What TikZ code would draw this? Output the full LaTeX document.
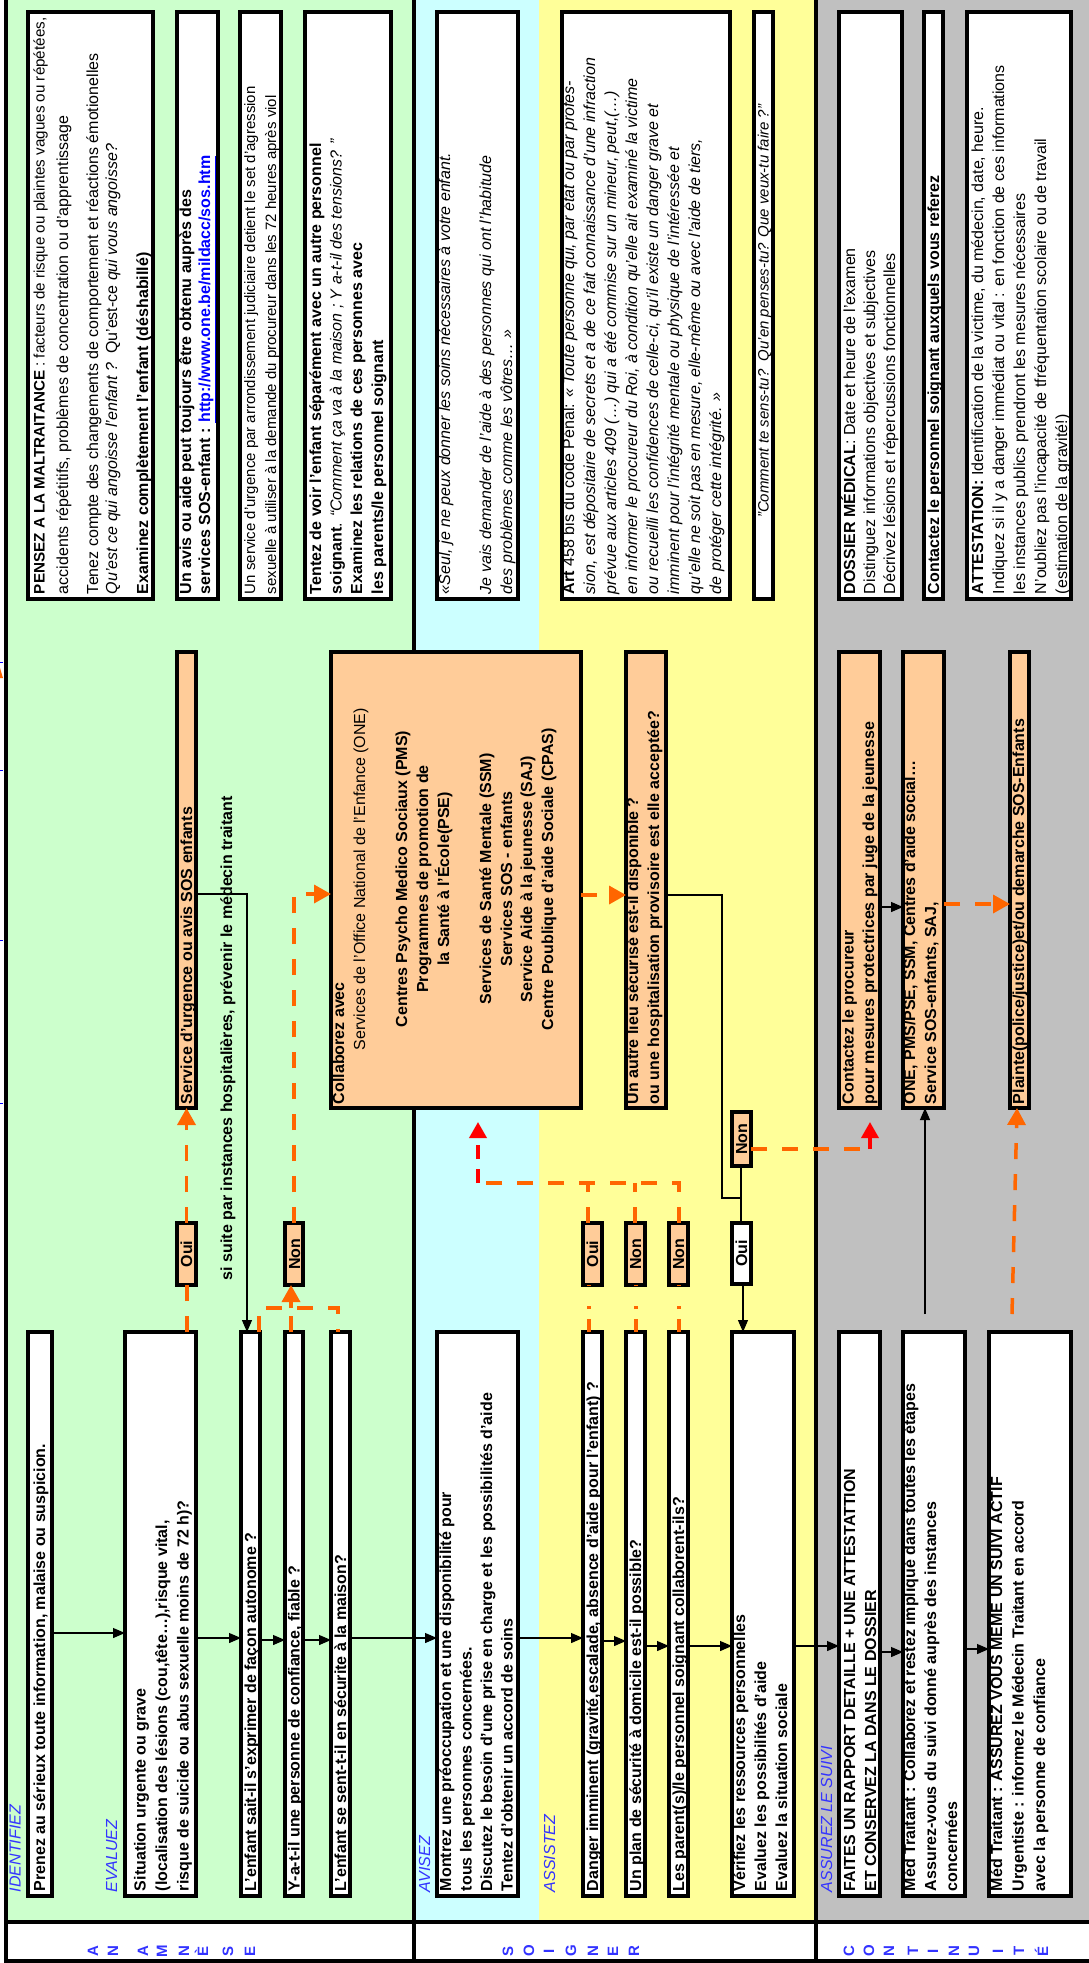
\documentclass[tikz,border=0pt]{standalone}
\usepackage{fontspec}
\setmainfont{Liberation Sans}
\usetikzlibrary{arrows.meta}
\definecolor{cgreen}{HTML}{CCFFCC}
\definecolor{ccyan}{HTML}{CCFFFF}
\definecolor{cyellow}{HTML}{FFFF99}
\definecolor{cgray}{HTML}{C0C0C0}
\definecolor{corange}{HTML}{FFCC99}
\definecolor{cdash}{HTML}{FF6600}
\definecolor{cred}{HTML}{FF0000}
\definecolor{cblue}{HTML}{3333FF}
\definecolor{clink}{HTML}{0000FF}
\newcounter{lnc}
\newcommand\LineAt[4][]{\stepcounter{lnc}\node[txt,#1] (ln\number\value{lnc}) at (#2,-#3) {#4};}
\newcommand\BoxAt[6][]{\node[boxs,#1,minimum width={#4-#3},minimum height={#6-#5}] (#2) at ({(#3+#4)/2},{-(#5+#6)/2}) {};}
\begin{document}
\begin{tikzpicture}[x=1pt,y=1pt,
  txt/.style={rotate=90,anchor=base west,inner sep=0,outer sep=0,font=\fontsize{16}{19}\selectfont},
  txtc/.style={anchor=base},
  bt/.style={font=\fontsize{16}{19}\selectfont\bfseries},
  sf/.style={font=\fontsize{#1}{19}\selectfont},
  lbl/.style={font=\fontsize{16}{19}\selectfont\itshape,text=cblue},
  lettr/.style={anchor=base,font=\fontsize{15}{18}\selectfont\bfseries,text=cblue},
  boxs/.style={draw,line width=4,fill=white,inner sep=0,outer sep=0},
  obox/.style={fill=corange},
  frame/.style={line width=4},
  arr/.style={line width=1.2,-{Triangle[length=12pt,width=10pt]}},
  thinl/.style={line width=1.2},
  odash/.style={cdash,line width=3.5,dash pattern=on 16pt off 15pt},
  ldash/.style={cdash,line width=3.5,dash pattern=on 13pt off 10pt on 3pt off 20pt},
  rdash/.style={cred,line width=3.5,dash pattern=on 14pt off 10pt},
  oarr/.style={-{Triangle[length=17pt,width=18pt]}},
  rarr/.style={-{Triangle[length=16pt,width=17pt]}}
]
\useasboundingbox (0,0) rectangle (1089,-1963);
\fill[white] (0,0) rectangle (1089,-1963);
% bands
\fill[cgreen] (8,0) rectangle (414,-1922);
\fill[ccyan] (414,0) rectangle (539,-1922);
\fill[cyellow] (539,0) rectangle (816,-1922);
\fill[cgray] (816,0) rectangle (1089,-1922);
\draw[frame] (6,0) -- (6,-1961) -- (1089,-1961);
\draw[frame] (6,-1922) -- (1089,-1922);
\draw[frame] (414,0) -- (414,-1963);
\draw[frame] (816,0) -- (816,-1963);
% edge artifacts
\draw[clink,line width=1] (0,-662) -- (3,-662);
\draw[clink,line width=1] (0,-770) -- (3,-770);
\draw[clink,line width=1] (0,-940) -- (3,-940);
\draw[clink,line width=1] (0,-1103) -- (3,-1103);
\fill[cdash] (0,-668) -- (3,-678) -- (0,-678) -- cycle;

% info boxes
\BoxAt{pensez}{28}{153}{12}{599}
\BoxAt{avis}{177}{218}{12}{599}
\BoxAt{urgsvc}{240}{281}{12}{599}
\BoxAt{tentez}{305}{391}{12}{599}
\BoxAt{seul}{437}{518}{12}{599}
\BoxAt{art}{562}{730}{12}{599}
\BoxAt{comment}{754}{773}{12}{599}
\BoxAt{dossier}{839}{902}{12}{599}
\BoxAt{contact}{924}{943}{12}{599}
\BoxAt{attest}{967}{1071}{12}{599}
% orange middle boxes
\BoxAt[obox]{service}{177}{196}{652}{1108}
\BoxAt[obox]{collab}{331}{581}{652}{1108}
\BoxAt[obox]{autre}{626}{666}{652}{1108}
\BoxAt[obox]{procureur}{839}{880}{652}{1108}
\BoxAt[obox]{one}{903}{944}{652}{1108}
\BoxAt[obox]{plainte}{1010}{1029}{652}{1108}
% oui / non
\BoxAt[obox]{oui1}{177}{196}{1223}{1285}
\BoxAt[obox]{non1}{285}{303}{1223}{1285}
\BoxAt[obox]{oui2}{583}{602}{1223}{1285}
\BoxAt[obox]{non2}{626}{645}{1223}{1285}
\BoxAt[obox]{non3}{669}{688}{1223}{1285}
\BoxAt{oui3}{732}{751}{1223}{1284}
\BoxAt[obox]{non4}{732}{751}{1112}{1166}
% main steps
\BoxAt{prenez}{28}{52}{1332}{1896}
\BoxAt{situation}{125}{196}{1332}{1896}
\BoxAt{saitil}{241}{260}{1332}{1896}
\BoxAt{ya}{285}{303}{1332}{1896}
\BoxAt{secu}{331}{350}{1332}{1896}
\BoxAt{montrez}{437}{518}{1332}{1896}
\BoxAt{danger}{583}{602}{1332}{1896}
\BoxAt{plan}{626}{645}{1332}{1896}
\BoxAt{parents}{669}{688}{1332}{1896}
\BoxAt{verif}{732}{794}{1332}{1896}
\BoxAt{faites}{839}{880}{1332}{1896}
\BoxAt{medcol}{903}{965}{1332}{1896}
\BoxAt{medass}{989}{1071}{1332}{1896}

% main flow arrows
\draw[arr] (prenez.east |- 0,-1633) -- (situation.west |- 0,-1633);
\draw[arr] (situation.east |- 0,-1638) -- (saitil.west |- 0,-1638);
\draw[arr] (saitil.east |- 0,-1640) -- (ya.west |- 0,-1640);
\draw[arr] (ya.east |- 0,-1640) -- (secu.west |- 0,-1640);
\draw[arr] (secu.east |- 0,-1638) -- (montrez.west |- 0,-1638);
\draw[arr] (montrez.east |- 0,-1638) -- (danger.west |- 0,-1638);
\draw[arr] (danger.east |- 0,-1641) -- (plan.west |- 0,-1641);
\draw[arr] (plan.east |- 0,-1646) -- (parents.west |- 0,-1646);
\draw[arr] (parents.east |- 0,-1646) -- (verif.west |- 0,-1646);
\draw[arr] (verif.east |- 0,-1646) -- (faites.west |- 0,-1646);
\draw[arr] (faites.east |- 0,-1652) -- (medcol.west |- 0,-1652);
\draw[arr] (medcol.east |- 0,-1649) -- (medass.west |- 0,-1649);
% black connectors
\draw[arr] (service.east |- 0,-894) -- (247,-894) -- (saitil.north -| 247,0);
\draw[thinl] (autre.east |- 0,-895) -- (722,-895) -- (722,-1198) -- (741,-1198);
\draw[thinl] (non4.south -| 741,0) -- (oui3.north -| 741,0);
\draw[arr] (oui3.south -| 743,0) -- (verif.north -| 743,0);
\draw[arr] (procureur.east |- 0,-907) -- (one.west |- 0,-907);
\coordinate (mcs) at (925,-1314);
\draw[arr] (mcs) -- (one.south -| 925,0);
% orange dashed connectors
\draw[odash] (situation.north -| 187,0) -- (oui1.south -| 187,0);
\draw[odash,oarr] (oui1.north -| 186.5,0) -- (service.south -| 186.5,0);
\draw[odash] (saitil.north -| 259,0) -- (259,-1308) -- (338,-1308) -- (secu.north -| 338,0);
\draw[odash] (ya.north -| 291,0) -- (291,-1308);
\draw[odash,oarr] (291,-1308) -- (non1.south -| 291,0);
\draw[odash,oarr] (non1.north -| 294,0) -- (294,-894) -- (collab.west |- 0,-894);
\draw[odash,oarr] (collab.east |- 0,-895) -- (autre.west |- 0,-895);
\draw[ldash] (danger.north -| 589,0) -- (oui2.south -| 589,0);
\draw[ldash] (plan.north -| 636,0) -- (non2.south -| 636,0);
\draw[ldash] (parents.north -| 679,0) -- (non3.south -| 679,0);
\draw[odash] (oui2.north -| 588,0) -- (588,-1183);
\draw[odash] (non2.north -| 635,0) -- (635,-1183);
\draw[odash] (non3.north -| 679,0) -- (679,-1183) -- (478,-1183);
\coordinate (rtip1) at (478,-1122);
\draw[rdash,rarr] (478,-1183) -- (rtip1);
\draw[odash] (non4.east |- 0,-1149) -- (870,-1149);
\coordinate (rtip2) at (870,-1122);
\draw[rdash,rarr] (870,-1149) -- (rtip2);
\draw[odash,oarr] (one.east |- 0,-904) -- (plainte.west |- 0,-904);
\coordinate (mas) at (1012,-1314);
\draw[odash,oarr] (mas) -- (plainte.south -| 1017,0);

% labels
\LineAt[lbl]{20.5}{1892}{IDENTIFIEZ}
\LineAt[lbl]{117}{1892}{EVALUEZ}
\LineAt[lbl]{430}{1892}{AVISEZ}
\LineAt[lbl]{555}{1892}{ASSISTEZ}
\LineAt[lbl]{832}{1892}{ASSUREZ LE SUIVI}
% bottom letters
\foreach \bx/\lt in {98/A,118/N,148/A,167/M,189/N,208/È,233/S,255/E,
  513/S,534/O,554/I,576/G,598/N,618/E,639/R,
  854/C,874/O,894/N,918/T,938/I,959/N,979/U,1003/I,1024/T,1048/É}
  {\LineAt[lettr]{\bx}{1951}{\lt}}

% PENSEZ
\LineAt[sf=15.2]{44.5}{594}{\textbf{PENSEZ A LA MALTRAITANCE} : facteurs de risque ou plaintes vagues ou répétées,}
\LineAt{68}{594}{accidents répétitifs, problèmes de concentration ou d'apprentissage}
\LineAt{98}{594}{Tenez compte des changements de comportement et réactions émotionelles}
\LineAt{117}{594}{\textit{Qu'est ce qui angoisse l'enfant ?}\ \ Qu'est-ce \textit{qui vous angoisse?}}
\LineAt{148}{594}{\textbf{Examinez complètement l'enfant (déshabillé)}}
% avis
\LineAt{191}{594}{\textbf{Un avis ou aide peut toujours être obtenu auprès des}}
\LineAt{210}{594}{\textbf{services SOS-enfant : \textcolor{clink}{\underline{http://www.one.be/mildacc/sos.htm}}}}
% urgence
\LineAt[sf=15]{255}{594}{Un service d'urgence par arrondissement judiciaire detient le set d'agression}
\LineAt[sf=15]{276}{594}{sexuelle à utiliser à la demande du procureur dans les 72 heures après viol}
% tentez
\LineAt{321}{594}{\textbf{Tentez de voir l'enfant séparément avec un autre personnel}}
\LineAt{341.5}{594}{\textbf{soignant}. \textit{“Comment ça va à la maison ; Y a-t-il des tensions? ”}}
\LineAt{362}{594}{\textbf{Examinez les relations de ces personnes avec}}
\LineAt{383}{594}{\textbf{les parents/le personnel soignant}}
% seul
\LineAt{450}{594}{\textit{«Seul, je ne peux donner les soins nécessaires à votre enfant.}}
\LineAt{491}{594}{\textit{Je vais demander de l'aide à des personnes qui ont l'habitude}}
\LineAt{512}{594}{\textit{des problèmes comme les vôtres… »}}
% art
\LineAt{574}{594}{\textbf{Art} 458 bis du code Pénal: \textit{« Toute personne qui, par état ou par profes-}}
\LineAt{595}{594}{\textit{sion, est dépositaire de secrets et a de ce fait connaissance d'une infraction}}
\LineAt{616}{594}{\textit{prévue aux articles 409 (…) qui a été commise sur un mineur, peut,(…)}}
\LineAt{637}{594}{\textit{en informer le procureur du Roi, à condition qu'elle ait examiné la victime}}
\LineAt{658}{594}{\textit{ou recueilli les confidences de celle-ci, qu'il existe un danger grave et}}
\LineAt{679}{594}{\textit{imminent pour l'intégrité mentale ou physique de l'intéressée et}}
\LineAt{700}{594}{\textit{qu'elle ne soit pas en mesure, elle-même ou avec l'aide de tiers,}}
\LineAt{721}{594}{\textit{de protéger cette intégrité. »}}
% comment
\LineAt[txtc,sf=15]{768.5}{311}{\textit{"Comment te sens-tu?\ \ Qu'en penses-tu? Que veux-tu faire ?"}}
% dossier
\LineAt{855}{594}{\textbf{DOSSIER MÉDICAL}: Date et heure de l'examen}
\LineAt{875}{594}{Distinguez informations objectives et subjectives}
\LineAt{895}{594}{Décrivez lésions et répercussions fonctionnelles}
% contact
\LineAt{939}{594}{\textbf{Contactez le personnel soignant auxquels vous referez}}
% attestation
\LineAt{983}{594}{\textbf{ATTESTATION:} Identification de la victime, du médecin, date, heure.}
\LineAt{1004}{594}{Indiquez si il y a danger immédiat ou vital : en fonction de ces informations}
\LineAt{1025}{594}{les instances publics prendront les mesures nécessaires}
\LineAt{1046}{594}{N'oubliez pas l'incapacité de tfréquentation scolaire ou de travail}
\LineAt{1067}{594}{(estimation de la gravité!)}

% main step texts
\LineAt[bt]{45}{1891}{Prenez au sérieux toute information, malaise ou suspicion.}
\LineAt[bt]{145.5}{1891}{Situation urgente ou grave}
\LineAt[bt]{167}{1891}{(localisation des lésions (cou,tête…),risque vital,}
\LineAt[bt]{188.5}{1891}{risque de suicide ou abus sexuelle moins de 72 h)?}
\LineAt[bt]{256}{1891}{L'enfant sait-il s'exprimer de façon autonome ?}
\LineAt[bt]{299.5}{1891}{Y-a-t-il une personne de confiance, fiable ?}
\LineAt[bt]{346}{1891}{L'enfant se sent-t-il en sécurite à la maison?}
\LineAt[bt]{451}{1891}{Montrez une préoccupation et une disponibilité pour}
\LineAt[bt]{471.5}{1891}{tous les personnes concernées.}
\LineAt[bt]{492}{1891}{Discutez le besoin d'une prise en charge et les possibilités d'aide}
\LineAt[bt]{512.5}{1891}{Tentez d'obtenir un accord de soins}
\LineAt[bt]{598}{1891}{Danger imminent (gravité,escalade, absence d'aide pour l'enfant) ?}
\LineAt[bt]{641}{1891}{Un plan de sécurité à domicile est-il possible?}
\LineAt[bt]{684}{1891}{Les parent(s)/le personnel soignant collaborent-ils?}
\LineAt[bt]{745}{1891}{Vérifiez les ressources personnelles}
\LineAt[bt]{766}{1891}{Evaluez les possibilités d'aide}
\LineAt[bt]{787}{1891}{Evaluez la situation sociale}
\LineAt[bt]{855}{1891}{FAITES UN RAPPORT DETAILLE + UNE ATTESTATTION}
\LineAt[bt]{876}{1891}{ET CONSERVEZ LA DANS LE DOSSIER}
\LineAt[bt]{915}{1891}{Méd Traitant : Collaborez et restez impliqué dans toutes les étapes}
\LineAt[bt]{936}{1891}{Assurez-vous du suivi donné auprès des instances}
\LineAt[bt]{957}{1891}{concernées}
\LineAt[bt]{1002}{1891}{Méd Traitant : ASSUREZ VOUS MEME UN SUIVI ACTIF}
\LineAt[bt]{1023.5}{1891}{Urgentiste : informez le Médecin Traitant en accord}
\LineAt[bt]{1045}{1891}{avec la personne de confiance}

% middle orange texts
\LineAt[bt]{232}{1280}{si suite par instances hospitalières, prévenir le médecin traitant}
\LineAt[bt]{192}{1104}{Service d'urgence ou avis SOS enfants}
\LineAt[bt]{344}{1104}{Collaborez avec}
\LineAt[txtc]{365}{879}{Services de l'Office National de l'Enfance (ONE)}
\LineAt[txtc,bt]{407}{879}{Centres Psycho Medico Sociaux (PMS)}
\LineAt[txtc,bt]{428}{879}{Programmes de promotion de}
\LineAt[txtc,bt]{449}{879}{la Santé à l'École(PSE)}
\LineAt[txtc,bt]{491}{879}{Services de Santé Mentale (SSM)}
\LineAt[txtc,bt]{512}{879}{Services SOS - enfants}
\LineAt[txtc,bt]{532}{879}{Service Aide à la jeunesse (SAJ)}
\LineAt[txtc,bt]{553}{879}{Centre Poublique d'aide Sociale (CPAS)}
\LineAt[bt]{638}{1104}{Un autre lieu sécurisé est-il disponible ?}
\LineAt[bt]{659}{1104}{ou une hospitalisation provisoire est elle acceptée?}
\LineAt[bt]{853.5}{1104}{Contactez le procureur}
\LineAt[bt]{874}{1104}{pour mesures protectrices par juge de la jeunesse}
\LineAt[bt]{915}{1104}{ONE, PMS/PSE, SSM, Centres d'aide social…}
\LineAt[bt]{936}{1104}{Service SOS-enfants, SAJ,}
\LineAt[bt]{1024}{1104}{Plainte(police/justice)et/ou demarche SOS-Enfants}
% oui / non texts
\LineAt[txtc,bt]{192}{1254}{Oui}
\LineAt[txtc,bt]{300}{1254}{Non}
\LineAt[txtc,bt]{598}{1254}{Oui}
\LineAt[txtc,bt]{641}{1254}{Non}
\LineAt[txtc,bt]{684}{1254}{Non}
\LineAt[txtc,bt]{747}{1253.5}{Oui}
\LineAt[txtc,bt]{747}{1139}{Non}
\end{tikzpicture}
\end{document}
